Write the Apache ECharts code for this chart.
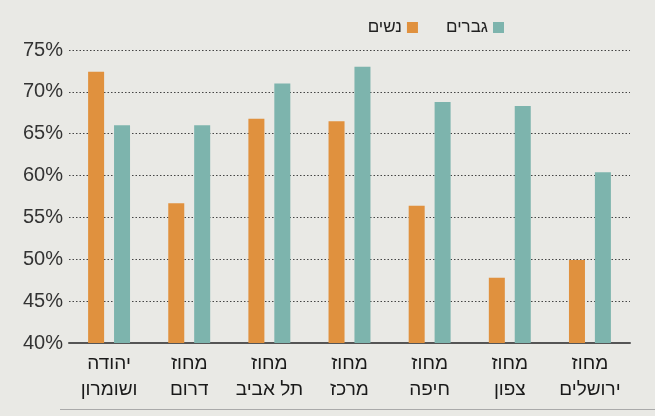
<!DOCTYPE html>
<html><head><meta charset="utf-8">
<script src="https://cdn.jsdelivr.net/npm/echarts@6/dist/echarts.min.js"></script>
<style>html,body{margin:0;padding:0;background:#e9e9e5}#c{width:655px;height:416px}</style>
</head><body><div id="c"></div>
<script>
const categories = ['יהודה\nושומרון','מחוז\nדרום','מחוז\nתל אביב','מחוז\nמרכז','מחוז\nחיפה','מחוז\nצפון','מחוז\nירושלים'];
const women = [72.4, 56.7, 66.8, 66.5, 56.4, 47.8, 49.9];
const men = [66.0, 66.0, 71.0, 73.0, 68.8, 68.3, 60.4];
const seriesNames = ['נשים','גברים'];

const chart = echarts.init(document.getElementById('c'));
chart.setOption({
  backgroundColor: '#e9e9e5',
  animation: false,
  grid: {left: 69, right: 25, top: 50, bottom: 73},
  legend: {
    data: ['נשים','גברים'],
    right: 146, top: 14, align: 'right',
    itemWidth: 11, itemHeight: 11, itemGap: 28,
    icon: 'rect',
    textStyle: {fontFamily: 'Liberation Sans', fontSize: 17, color: '#222'}
  },
  xAxis: {
    type: 'category', data: categories,
    axisTick: {show: false},
    axisLine: {lineStyle: {color: '#555', width: 2}},
    axisLabel: {interval: 0, hideOverlap: false, fontFamily: 'Liberation Sans', fontSize: 19, color: '#1a1a1a', lineHeight: 26, margin: 8}
  },
  yAxis: {
    type: 'value', min: 40, max: 75, interval: 5,
    axisLine: {show: false}, axisTick: {show: false},
    axisLabel: {formatter: '{value}%', fontFamily: 'Liberation Sans', fontSize: 20, color: '#333', margin: 6},
    splitLine: {lineStyle: {type: [1.5, 2], color: '#444', width: 1}}
  },
  graphic: [{type: 'rect', left: 60, top: 409, shape: {width: 595, height: 1}, style: {fill: '#aaa'}}],
  series: [
    {name: seriesNames[0], type: 'bar', data: women, barWidth: 16, barGap: '62%', itemStyle: {color: '#e0913e'}},
    {name: seriesNames[1], type: 'bar', data: men, barWidth: 16, itemStyle: {color: '#7db4ad'}}
  ]
});
</script></body></html>
